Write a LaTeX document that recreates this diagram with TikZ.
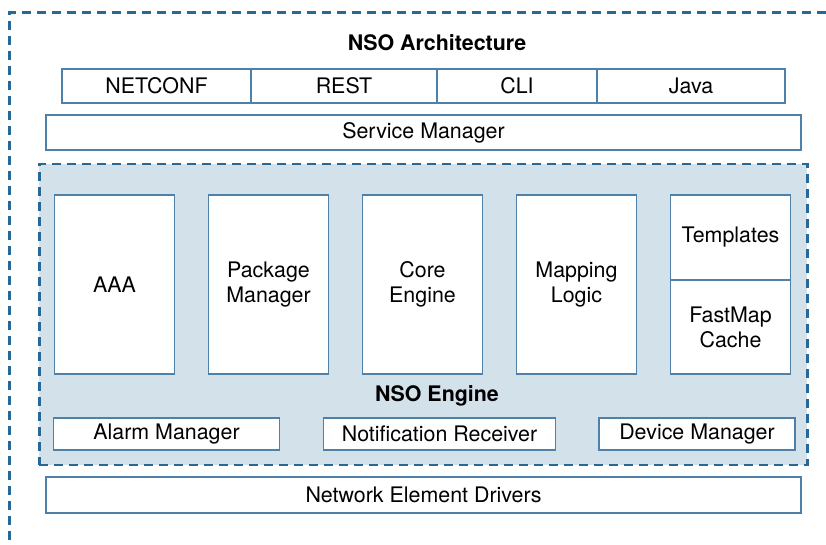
\documentclass[tikz,border=0pt]{standalone}
\usepackage{fontspec}
\setmainfont{TeX Gyre Heros}
\usepackage{tikz}
\usetikzlibrary{positioning}
\usepackage{xcolor}
\definecolor{nsoline}{RGB}{78,128,168}
\definecolor{nsodash}{RGB}{38,104,150}
\definecolor{nsofill}{RGB}{211,225,234}

\begin{document}
\begin{tikzpicture}[
    x=1pt, y=-1pt,
    node distance=34pt,
    every node/.style={font=\fontsize{21.4}{25}\selectfont, inner sep=0pt, outer sep=0pt},
    box/.style={draw=nsoline, line width=1.4pt, fill=white, align=center},
    topbox/.style={box, minimum height=34pt},
    widebox/.style={box, minimum width=755pt, minimum height=35pt},
    tallbox/.style={box, minimum width=120pt, minimum height=179pt},
    lowbox/.style={box, minimum height=32pt},
    dashline/.style={draw=nsodash, line width=3pt, dash pattern=on 9pt off 6pt},
    titletext/.style={font=\fontsize{21.4}{25}\selectfont\bfseries}
]
\useasboundingbox (0,0) rectangle (826,545);

% outer frame (runs off the page)
\coordinate (corner) at (9,13);
\draw[dashline] (826,13) -- (corner) -- (9,545);

\node[titletext] (archtitle) at (437,43) {NSO Architecture};

% northbound interfaces
\node[topbox, minimum width=189pt] (netconf) at (156.5,86) {NETCONF};
\node[topbox, minimum width=186pt, right=0pt of netconf] (rest) {REST};
\node[topbox, minimum width=160pt, right=0pt of rest] (cli) {CLI};
\node[topbox, minimum width=188pt, right=0pt of cli] (java) {Java};

\node[widebox] (service) at (423.5,132.5) {Service Manager};

% engine area
\node[dashline, line width=2.6pt, dash pattern=on 9pt off 6pt, fill=nsofill,
      minimum width=768pt, minimum height=301pt] (engine) at (423.25,314.5) {};

\node[tallbox] (aaa) at (114.5,284.5) {AAA};
\node[tallbox, right=of aaa] (pkg) {Package\\Manager};
\node[tallbox, right=of pkg] (core) {Core\\Engine};
\node[tallbox, right=of core] (mapping) {Mapping\\Logic};
\node[box, minimum width=120pt, minimum height=85pt, right=of mapping.north east, anchor=north west] (templates) {Templates};
\node[box, minimum width=120pt, minimum height=94pt, below=0pt of templates] (fastmap) {FastMap\\Cache};

\node[titletext] (enginetitle) at (437,396) {NSO Engine};

\node[lowbox, minimum width=226pt] (alarm) at (166.5,434) {Alarm Manager};
\node[lowbox, minimum width=232pt] (notif) at (439.5,434) {Notification Receiver};
\node[lowbox, minimum width=196pt] (device) at (697,434) {Device Manager};

\node[widebox, minimum height=36pt] (drivers) at (423.5,495) {Network Element Drivers};
\end{tikzpicture}
\end{document}
